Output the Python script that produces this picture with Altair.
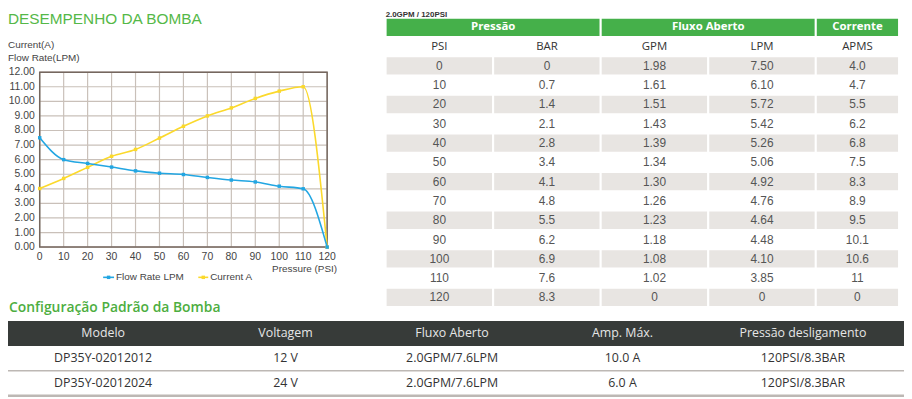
import altair as alt
import pandas as pd

# ---------------- data ----------------
pressure_psi = [0, 10, 20, 30, 40, 50, 60, 70, 80, 90, 100, 110, 120]
flow_rate_lpm = [7.50, 6.00, 5.74, 5.49, 5.23, 5.07, 4.98, 4.78, 4.60, 4.47, 4.18, 4.00, 0.00]
current_a = [4.02, 4.71, 5.47, 6.23, 6.70, 7.48, 8.29, 9.00, 9.55, 10.20, 10.70, 11.00, 0.00]
y_ticks = [0, 1, 2, 3, 4, 5, 6, 7, 8, 9, 10, 11, 12]

chart_title = "DESEMPENHO DA BOMBA"
y_titles = ["Current(A)", "Flow Rate(LPM)"]
x_title = "Pressure (PSI)"
legend_names = ["Flow  Rate LPM", "Current A"]

table_title = "2.0GPM / 120PSI"
group_names = ["Pressão", "Fluxo Aberto", "Corrente"]
group_sizes = [2, 2, 1]
col_names = ["PSI", "BAR", "GPM", "LPM", "APMS"]
col_psi = ["0", "10", "20", "30", "40", "50", "60", "70", "80", "90", "100", "110", "120"]
col_bar = ["0", "0.7", "1.4", "2.1", "2.8", "3.4", "4.1", "4.8", "5.5", "6.2", "6.9", "7.6", "8.3"]
col_gpm = ["1.98", "1.61", "1.51", "1.43", "1.39", "1.34", "1.30", "1.26", "1.23", "1.18", "1.08", "1.02", "0"]
col_lpm = ["7.50", "6.10", "5.72", "5.42", "5.26", "5.06", "4.92", "4.76", "4.64", "4.48", "4.10", "3.85", "0"]
col_apms = ["4.0", "4.7", "5.5", "6.2", "6.8", "7.5", "8.3", "8.9", "9.5", "10.1", "10.6", "11", "0"]

config_title = "Configuração Padrão da Bomba"
config_headers = ["Modelo", "Voltagem", "Fluxo Aberto", "Amp. Máx.", "Pressão desligamento"]
config_model = ["DP35Y-02012012", "DP35Y-02012024"]
config_voltage = ["12 V", "24 V"]
config_flow = ["2.0GPM/7.6LPM", "2.0GPM/7.6LPM"]
config_amp = ["10.0 A", "6.0 A"]
config_shutoff = ["120PSI/8.3BAR", "120PSI/8.3BAR"]

# ---------------- layout helpers ----------------
W, H = 904, 391
def px(v):
    return v - 8
def py(v):
    return v - 8

GREEN = "#45b04a"
BLUE = "#22a6e2"
YELLOW = "#fbd92c"
GRAY_CELL = "#e8e5e2"
TXT = "#444444"
SANS = "Liberation Sans"
OPEN = "Open Sans"

NOAX = dict(axis=None)

layers = []

def txt(text, x, y, **kw):
    d = pd.DataFrame({"t": [text]})
    return alt.Chart(d).mark_text(**kw).encode(x=alt.value(x), y=alt.value(y), text="t:N")

# ---------------- performance chart ----------------
cx = alt.Scale(domain=[0, 120], range=[px(40), px(330)], nice=False, zero=False)
cy = alt.Scale(domain=[0, 12], range=[py(247.5), py(71)], nice=False, zero=False)

vgrid = pd.DataFrame({"p": pressure_psi, "lo": min(y_ticks), "hi": max(y_ticks)})
hgrid = pd.DataFrame({"v": y_ticks, "lo": min(pressure_psi), "hi": max(pressure_psi)})

layers.append(alt.Chart(vgrid).mark_rule(color="#c9c0b9", strokeWidth=1.2).encode(
    x=alt.X("p:Q", scale=cx, **NOAX), y=alt.Y("lo:Q", scale=cy, **NOAX), y2="hi:Q"))
layers.append(alt.Chart(hgrid).mark_rule(color="#c9c0b9", strokeWidth=1.2).encode(
    y=alt.Y("v:Q", scale=cy, **NOAX), x=alt.X("lo:Q", scale=cx, **NOAX), x2="hi:Q"))
frame = pd.DataFrame({"x0": [min(pressure_psi)], "x1": [max(pressure_psi)],
                      "y0": [min(y_ticks)], "y1": [max(y_ticks)]})
layers.append(alt.Chart(frame).mark_rect(fillOpacity=0, stroke="#75675f", strokeWidth=1.5).encode(
    x=alt.X("x0:Q", scale=cx, **NOAX), x2="x1:Q", y=alt.Y("y0:Q", scale=cy, **NOAX), y2="y1:Q"))

layers.append(alt.Chart(hgrid).mark_text(align="right", baseline="middle", font=SANS, fontSize=10.5, color=TXT).encode(
    x=alt.value(px(35)), y=alt.Y("v:Q", scale=cy, **NOAX), text=alt.Text("v:Q", format=".2f")))
layers.append(alt.Chart(vgrid).mark_text(align="center", baseline="middle", font=SANS, fontSize=10.5, color=TXT).encode(
    y=alt.value(py(258)), x=alt.X("p:Q", scale=cx, **NOAX), text=alt.Text("p:Q")))

perf = pd.DataFrame({"p": pressure_psi, "flow": flow_rate_lpm, "cur": current_a})
for field, col in (("cur", YELLOW), ("flow", BLUE)):
    layers.append(alt.Chart(perf).mark_line(interpolate="monotone", color=col, strokeWidth=1.6).encode(
        x=alt.X("p:Q", scale=cx, **NOAX), y=alt.Y(f"{field}:Q", scale=cy, **NOAX)))
    layers.append(alt.Chart(perf).mark_square(size=12, color=col, opacity=1).encode(
        x=alt.X("p:Q", scale=cx, **NOAX), y=alt.Y(f"{field}:Q", scale=cy, **NOAX)))

layers.append(txt(chart_title, px(8), 14.7, align="left", baseline="alphabetic", font=SANS,
                  fontSize=15.5, color="#55b848"))
layers.append(txt(y_titles[0], px(8), py(44), align="left", baseline="middle", font=SANS, fontSize=10, color=TXT))
layers.append(txt(y_titles[1], px(8), py(57), align="left", baseline="middle", font=SANS, fontSize=10, color=TXT))
layers.append(txt(x_title, px(340), py(269.5), align="right", baseline="middle", font=SANS, fontSize=10, color=TXT))

# legend
for (x0, x1, col, name) in ((104, 115, BLUE, legend_names[0]), (200, 210, YELLOW, legend_names[1])):
    d = pd.DataFrame({"t": [name]})
    layers.append(alt.Chart(d).mark_rule(color=col, strokeWidth=1.6).encode(
        x=alt.value(px(x0)), x2=alt.value(px(x1)), y=alt.value(py(278))))
    layers.append(alt.Chart(d).mark_square(size=12, color=col, opacity=1).encode(
        x=alt.value(px((x0 + x1) / 2)), y=alt.value(py(278))))
    layers.append(alt.Chart(d).mark_text(align="left", baseline="middle", font=SANS, fontSize=10, color=TXT).encode(
        x=alt.value(px(x1 + 2)), y=alt.value(py(278)), text="t:N"))

# ---------------- top-right table ----------------
tx = alt.Scale(domain=[0, 4, 5], range=[px(389), px(823), px(907)], nice=False, zero=False)
ty = alt.Scale(domain=[0, 15], range=[py(16), py(308)], nice=False, zero=False)

starts = [sum(group_sizes[:i]) for i in range(len(group_sizes))]
groups = pd.DataFrame({"name": group_names, "c0": starts,
                       "c1": [s + n for s, n in zip(starts, group_sizes)], "r0": 0, "r1": 1})
groups["cm"] = (groups["c0"] + groups["c1"]) / 2
groups["rm"] = 0.5
layers.append(alt.Chart(groups).mark_rect(fill=GREEN, stroke="white", strokeWidth=2).encode(
    x=alt.X("c0:Q", scale=tx, **NOAX), x2="c1:Q", y=alt.Y("r0:Q", scale=ty, **NOAX), y2="r1:Q"))
layers.append(alt.Chart(groups).mark_text(font=OPEN, fontWeight="bold", fontSize=11.5, color="white").encode(
    x=alt.X("cm:Q", scale=tx, **NOAX), y=alt.Y("rm:Q", scale=ty, **NOAX), text="name:N"))

subs = pd.DataFrame({"name": col_names, "cm": [i + 0.5 for i in range(len(col_names))], "rm": 1.5})
layers.append(alt.Chart(subs).mark_text(font=OPEN, fontSize=11.5, color="#333333").encode(
    x=alt.X("cm:Q", scale=tx, **NOAX), y=alt.Y("rm:Q", scale=ty, **NOAX), text="name:N"))

rows = []
for ci, col in enumerate([col_psi, col_bar, col_gpm, col_lpm, col_apms]):
    for ri, val in enumerate(col):
        rows.append({"t": val, "c0": ci, "c1": ci + 1, "cm": ci + 0.5,
                     "r0": 2 + ri, "r1": 3 + ri, "rm": 2.5 + ri, "shade": ri % 2 == 0})
cells = pd.DataFrame(rows)
layers.append(alt.Chart(cells[cells["shade"]]).mark_rect(fill=GRAY_CELL, stroke="white", strokeWidth=2).encode(
    x=alt.X("c0:Q", scale=tx, **NOAX), x2="c1:Q", y=alt.Y("r0:Q", scale=ty, **NOAX), y2="r1:Q"))
layers.append(alt.Chart(cells).mark_text(font=SANS, fontSize=12, color="#555555").encode(
    x=alt.X("cm:Q", scale=tx, **NOAX), y=alt.Y("rm:Q", scale=ty, **NOAX), text="t:N"))

layers.append(txt(table_title, px(389), 7.5, align="left", baseline="alphabetic", font=SANS,
                  fontWeight="bold", fontSize=8, color="#333333"))

# ---------------- bottom configuration table ----------------
bx = alt.Scale(domain=[0, 1, 2, 3, 4], range=[px(104), px(288), px(456), px(628), px(810)],
               nice=False, zero=False)
by = alt.Scale(domain=[0, 3], range=[py(322), py(397.5)], nice=False, zero=False)

layers.append(txt(config_title, px(9), py(313), align="left", baseline="alphabetic", font=OPEN,
                  fontWeight=600, fontSize=14, color="#4dae3f"))

hdr = pd.DataFrame({"r0": [0], "r1": [1]})
layers.append(alt.Chart(hdr).mark_rect(fill="#373b39").encode(
    x=alt.value(0), x2=alt.value(W), y=alt.Y("r0:Q", scale=by, **NOAX), y2="r1:Q"))
lines = pd.DataFrame({"r": [2, 3], "w": [1.5, 2.5]})
layers.append(alt.Chart(lines).mark_rule(color="#bdb8b4").encode(
    x=alt.value(0), x2=alt.value(W), y=alt.Y("r:Q", scale=by, **NOAX),
    strokeWidth=alt.StrokeWidth("w:Q", scale=None)))

hdr_txt = pd.DataFrame({"t": config_headers, "c": list(range(len(config_headers))), "r": 0.5})
layers.append(alt.Chart(hdr_txt).mark_text(font=OPEN, fontSize=12.5, color="#e6e6e6").encode(
    x=alt.X("c:Q", scale=bx, **NOAX), y=alt.Y("r:Q", scale=by, **NOAX), text="t:N"))

brow = []
for ci, col in enumerate([config_model, config_voltage, config_flow, config_amp, config_shutoff]):
    for ri, val in enumerate(col):
        brow.append({"t": val, "c": ci, "r": 1.5 + ri})
layers.append(alt.Chart(pd.DataFrame(brow)).mark_text(font=OPEN, fontSize=12.5, color="#333333").encode(
    x=alt.X("c:Q", scale=bx, **NOAX), y=alt.Y("r:Q", scale=by, **NOAX), text="t:N"))

chart = (
    alt.layer(*layers)
    .resolve_scale(x="independent", y="independent")
    .properties(width=W, height=H, padding=0, autosize="none", background="white")
    .configure_view(stroke=None)
)

chart.save("out.html", embed_options={"renderer": "svg", "actions": False})
